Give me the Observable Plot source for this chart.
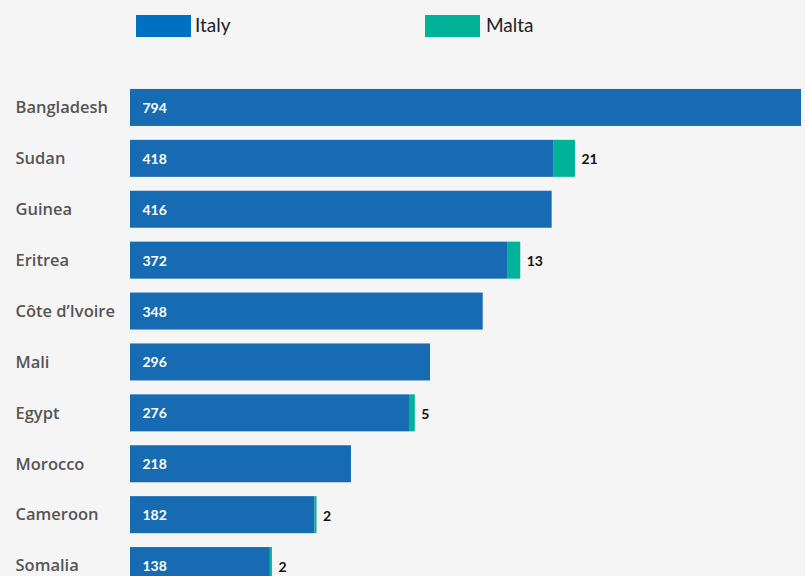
<!DOCTYPE html>
<html>
<head>
<meta charset="utf-8">
<script src="https://cdn.jsdelivr.net/npm/d3@7"></script>
<script src="https://cdn.jsdelivr.net/npm/@observablehq/plot@0.6"></script>
<style>
  html, body { margin: 0; padding: 0; background: #f5f5f5; overflow: hidden; }
  body { width: 805px; height: 576px; font-family: Lato, "Open Sans", sans-serif; }
  #legend { position: relative; height: 50px; }
  .sw { position: absolute; top: 15px; width: 55px; height: 22px; }
  .lb { position: absolute; top: 12px; font-size: 19px; color: #222; line-height: 26px; }
  #chart svg { display: block; }
</style>
</head>
<body>
<div id="legend"></div>
<div id="chart"></div>
<script>
const countries = ["Bangladesh", "Sudan", "Guinea", "Eritrea", "Côte d’Ivoire", "Mali", "Egypt", "Morocco", "Cameroon", "Somalia"];
const italy = [794, 418, 416, 372, 348, 296, 276, 218, 182, 138];
const malta = [0, 21, 0, 13, 0, 0, 5, 0, 2, 2];
const seriesNames = ["Italy", "Malta"];
const barColors = ["#176bb3", "#00b398"];
const legendColors = ["#0070c0", "#00b398"];

// legend
const legend = document.getElementById("legend");
const legendPos = [[136, 195], [425, 486]];
seriesNames.forEach((s, i) => {
  const sw = document.createElement("div");
  sw.className = "sw";
  sw.style.left = legendPos[i][0] + "px";
  sw.style.background = legendColors[i];
  legend.appendChild(sw);
  const lb = document.createElement("div");
  lb.className = "lb";
  lb.style.left = legendPos[i][1] + "px";
  lb.textContent = s;
  legend.appendChild(lb);
});

const rows = [];
countries.forEach((c, i) => {
  rows.push({country: c, series: "Italy", value: italy[i]});
  rows.push({country: c, series: "Malta", value: malta[i]});
});
const table = countries.map((c, i) => ({country: c, italy: italy[i], malta: malta[i], total: italy[i] + malta[i]}));

const chart = Plot.plot({
  width: 805,
  height: 541,
  marginLeft: 130,
  marginRight: 4,
  marginTop: 32,
  marginBottom: 0,
  style: {background: "transparent", fontFamily: "Lato, 'Open Sans', sans-serif"},
  x: {domain: [0, 662], axis: null},
  y: {domain: countries, axis: null, paddingInner: 0.273, paddingOuter: 0.1365, round: false},
  color: {domain: seriesNames, range: barColors},
  marks: [
    Plot.barX(rows, Plot.stackX({x: "value", y: "country", fill: "series", order: seriesNames, clip: true})),
    Plot.text(table, {
      y: "country", text: "country", frameAnchor: "left", dx: -115, dy: 0,
      textAnchor: "start", fontSize: 16.5, fontWeight: 600, fill: "#555",
      fontFamily: "'Open Sans', Lato, sans-serif"
    }),
    Plot.text(table, {
      x: 0, y: "country", text: "italy", dx: 12, dy: 0.5,
      textAnchor: "start", fontSize: 14, fontWeight: 700, fill: "white"
    }),
    Plot.text(table.filter(d => d.malta > 0), {
      x: "total", y: "country", text: "malta", dx: 6, dy: 1,
      textAnchor: "start", fontSize: 14, fontWeight: 700, fill: "#111"
    })
  ]
});
document.getElementById("chart").appendChild(chart);
</script>
</body>
</html>
